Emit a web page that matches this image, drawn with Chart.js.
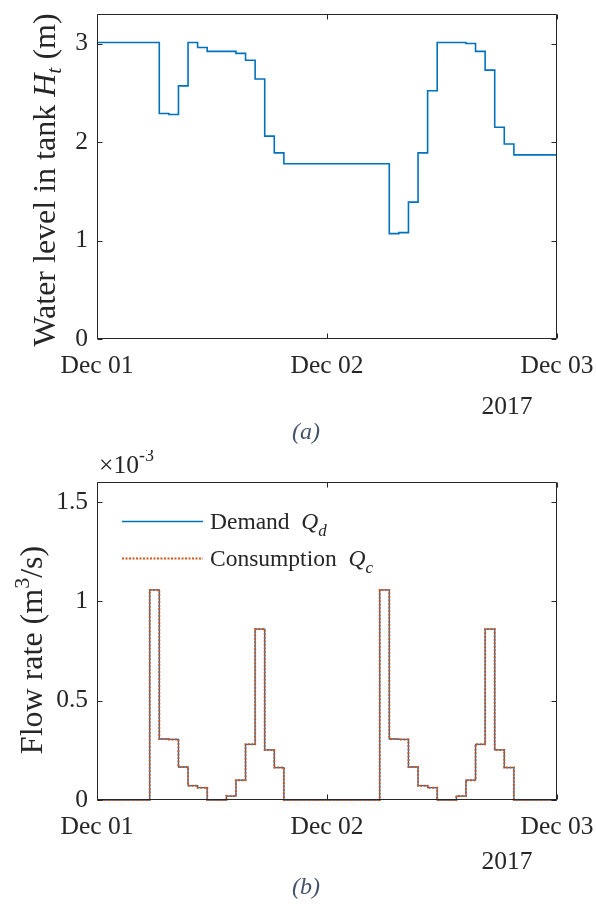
<!DOCTYPE html>
<html><head><meta charset="utf-8">
<script src="https://cdn.jsdelivr.net/npm/chart.js@4.4.1/dist/chart.umd.min.js"></script>
<style>
html,body{margin:0;padding:0;background:#fff;}
#wrap{position:relative;width:596px;height:904px;overflow:hidden;}
canvas{position:absolute;left:0;}
</style></head><body>
<div id="wrap">
<canvas id="c1" width="596" height="450" style="top:0"></canvas>
<canvas id="c2" width="596" height="454" style="top:450px"></canvas>
</div>
<script>
// ---------- data (hours since Dec 01 00:00) ----------
const dayLabels = ['Dec 01', 'Dec 02', 'Dec 03'];
const yearLabel = '2017';
const levelEdges = [0, 6.5, 7.5, 8.5, 9.5, 10.5, 11.5, 14.5, 15.5, 16.5, 17.5, 18.5, 19.5, 30.5, 31.5, 32.5, 33.5, 34.5, 35.5, 38.5, 39.5, 40.5, 41.5, 42.5, 43.5, 48];
const levelValues = [3.01, 2.29, 2.28, 2.57, 3.01, 2.96, 2.92, 2.90, 2.83, 2.64, 2.06, 1.89, 1.78, 1.07, 1.08, 1.39, 1.89, 2.52, 3.01, 3.00, 2.92, 2.73, 2.15, 1.98, 1.87];
const flowEdges = [0, 5.5, 6.5, 7.5, 8.5, 9.5, 10.5, 11.5, 13.5, 14.5, 15.5, 16.5, 17.5, 18.5, 19.5, 29.5, 30.5, 31.5, 32.5, 33.5, 34.5, 35.5, 37.5, 38.5, 39.5, 40.5, 41.5, 42.5, 43.5, 48];
const demandValues = [0, 1.057, 0.307, 0.305, 0.166, 0.072, 0.062, 0, 0.02, 0.10, 0.28, 0.86, 0.252, 0.163, 0, 1.057, 0.307, 0.305, 0.166, 0.072, 0.062, 0, 0.02, 0.10, 0.28, 0.86, 0.252, 0.163, 0];
const consumptionValues = [0, 1.057, 0.307, 0.305, 0.166, 0.072, 0.062, 0, 0.02, 0.10, 0.28, 0.86, 0.252, 0.163, 0, 1.057, 0.307, 0.305, 0.166, 0.072, 0.062, 0, 0.02, 0.10, 0.28, 0.86, 0.252, 0.163, 0];
const levelTicks = [0, 1, 2, 3];
const flowTicks = [0, 0.5, 1, 1.5];
const dayTicks = [0, 24, 48];

// ---------- helpers ----------
const SERIF = '"Liberation Serif", "Times New Roman", serif';
const AX = '#262626';
const BLUE = '#0072BD';
const ORANGE = '#D95319';

function stepPoints(edges, values) {
  const pts = [];
  for (let i = 0; i < values.length; i++) {
    pts.push({x: edges[i], y: values[i]});
    pts.push({x: edges[i + 1], y: values[i]});
  }
  return pts;
}

function drawRuns(ctx, runs, x, y, align) {
  let total = 0;
  runs.forEach(r => { ctx.font = r.font; r.w = ctx.measureText(r.t).width; total += r.w; });
  let cx = align === 'center' ? x - total / 2 : (align === 'right' ? x - total : x);
  runs.forEach(r => {
    ctx.font = r.font;
    ctx.fillText(r.t, cx, y + (r.dy || 0));
    cx += r.w;
  });
}

const framePlugin = {
  id: 'frame',
  afterDatasetsDraw(chart) {
    const ctx = chart.ctx, a = chart.chartArea;
    const xs = chart.scales.x, ys = chart.scales.y;
    ctx.save();
    ctx.strokeStyle = AX;
    ctx.lineWidth = 1;
    const L = Math.round(a.left) + 0.5, R = Math.round(a.right) - 0.5;
    const T = Math.round(a.top) + 0.5, B = Math.round(a.bottom) - 0.5;
    ctx.beginPath();
    ctx.rect(L, T, R - L, B - T);
    const tl = 5;
    xs.ticks.forEach(t => {
      const px = Math.round(xs.getPixelForValue(t.value)) + 0.5;
      ctx.moveTo(px, B); ctx.lineTo(px, B - tl);
      ctx.moveTo(px, T); ctx.lineTo(px, T + tl);
    });
    ys.ticks.forEach(t => {
      const py = Math.round(ys.getPixelForValue(t.value)) + 0.5;
      ctx.moveTo(L, py); ctx.lineTo(L + tl, py);
      ctx.moveTo(R, py); ctx.lineTo(R - tl, py);
    });
    ctx.stroke();
    ctx.restore();
  }
};

function zeroPad(s) { s.paddingLeft = 0; s.paddingRight = 0; s.paddingTop = 0; s.paddingBottom = 0; }

function xScale(h) {
  return {
    type: 'linear', min: 0, max: 48,
    afterBuildTicks: s => { s.ticks = dayTicks.map(v => ({value: v})); },
    afterFit: s => { s.height = h; zeroPad(s); },
    grid: {display: false, drawTicks: false},
    border: {display: false},
    ticks: {
      padding: 12, color: AX, maxRotation: 0, autoSkip: false,
      font: {family: SERIF, size: 25.5},
      callback: v => dayLabels[dayTicks.indexOf(v)]
    }
  };
}

function yScale(max, ticks) {
  return {
    type: 'linear', min: 0, max: max,
    afterBuildTicks: s => { s.ticks = ticks.map(v => ({value: v})); },
    afterFit: s => { s.width = 97; zeroPad(s); },
    grid: {display: false, drawTicks: false},
    border: {display: false},
    ticks: {padding: 9, color: AX, font: {family: SERIF, size: 25.5}, callback: v => String(v)}
  };
}

function baseOptions(max, ticks, xh, top) {
  return {
    responsive: false, animation: false, devicePixelRatio: 1,
    layout: {padding: {left: 0, right: 39, top: top, bottom: 0}},
    plugins: {legend: {display: false}, tooltip: {enabled: false}},
    elements: {point: {radius: 0}, line: {tension: 0}},
    scales: {x: xScale(xh), y: yScale(max, ticks)}
  };
}

// ---------- chart (a) ----------
const textA = {
  id: 'textA',
  afterDraw(chart) {
    const ctx = chart.ctx;
    const f = 'px ' + SERIF;
    ctx.save();
    ctx.fillStyle = AX;
    ctx.textBaseline = 'alphabetic';
    ctx.save();
    ctx.translate(55, 180);
    ctx.rotate(-Math.PI / 2);
    drawRuns(ctx, [
      {t: 'Water level in tank ', font: '32' + f},
      {t: 'H', font: 'italic 32' + f},
      {t: 't', font: 'italic 22' + f, dy: 6},
      {t: ' (m)', font: '32' + f}
    ], 0, 0, 'center');
    ctx.restore();
    ctx.font = '25.5' + f;
    ctx.textAlign = 'center';
    ctx.fillText(yearLabel, 507, 414);
    ctx.fillStyle = '#44546A';
    ctx.font = 'italic 24' + f;
    ctx.fillText('(a)', 306, 439);
    ctx.restore();
  }
};

new Chart(document.getElementById('c1'), {
  type: 'line',
  data: {datasets: [{
    label: 'Water level', data: stepPoints(levelEdges, levelValues),
    borderColor: BLUE, borderWidth: 1.6, fill: false, clip: false
  }]},
  options: baseOptions(3.3, levelTicks, 450 - 339, 14),
  plugins: [framePlugin, textA]
});

// ---------- chart (b) ----------
const OFF = 450;
const textB = {
  id: 'textB',
  afterDraw(chart) {
    const ctx = chart.ctx;
    const f = 'px ' + SERIF;
    ctx.save();
    ctx.fillStyle = AX;
    ctx.textBaseline = 'alphabetic';
    ctx.save();
    ctx.translate(42, 650 - OFF);
    ctx.rotate(-Math.PI / 2);
    drawRuns(ctx, [
      {t: 'Flow rate (m', font: '32' + f},
      {t: '3', font: '22' + f, dy: -13},
      {t: '/s)', font: '32' + f}
    ], 0, 0, 'center');
    ctx.restore();
    drawRuns(ctx, [
      {t: '\u00d710', font: '25.5' + f},
      {t: '-3', font: '18' + f, dy: -12}
    ], 99, 473 - OFF, 'left');
    // legend
    ctx.lineWidth = 1.5;
    ctx.strokeStyle = BLUE;
    ctx.beginPath(); ctx.moveTo(122, 521.5 - OFF); ctx.lineTo(203, 521.5 - OFF); ctx.stroke();
    ctx.strokeStyle = ORANGE;
    ctx.lineWidth = 2;
    ctx.setLineDash([2, 1.5]);
    ctx.beginPath(); ctx.moveTo(122, 558.5 - OFF); ctx.lineTo(203, 558.5 - OFF); ctx.stroke();
    ctx.setLineDash([]);
    drawRuns(ctx, [
      {t: 'Demand  ', font: '23.5' + f},
      {t: 'Q', font: 'italic 23.5' + f},
      {t: 'd', font: 'italic 17' + f, dy: 7}
    ], 210, 529 - OFF, 'left');
    drawRuns(ctx, [
      {t: 'Consumption  ', font: '23.5' + f},
      {t: 'Q', font: 'italic 23.5' + f},
      {t: 'c', font: 'italic 17' + f, dy: 7}
    ], 210, 566 - OFF, 'left');
    ctx.font = '25.5' + f;
    ctx.textAlign = 'center';
    ctx.fillText(yearLabel, 507, 869 - OFF);
    ctx.fillStyle = '#44546A';
    ctx.font = 'italic 24' + f;
    ctx.fillText('(b)', 306, 894 - OFF);
    ctx.restore();
  }
};

new Chart(document.getElementById('c2'), {
  type: 'line',
  data: {datasets: [
    {label: 'Demand', data: stepPoints(flowEdges, demandValues),
     borderColor: BLUE, borderWidth: 1.3, fill: false, clip: false, order: 1},
    {label: 'Consumption', data: stepPoints(flowEdges, consumptionValues),
     borderColor: ORANGE, borderWidth: 2, borderDash: [2, 1.5], fill: false, clip: false, order: 0}
  ]},
  options: baseOptions(1.6, flowTicks, 454 - 350, 32),
  plugins: [framePlugin, textB]
});
</script>
</body></html>
